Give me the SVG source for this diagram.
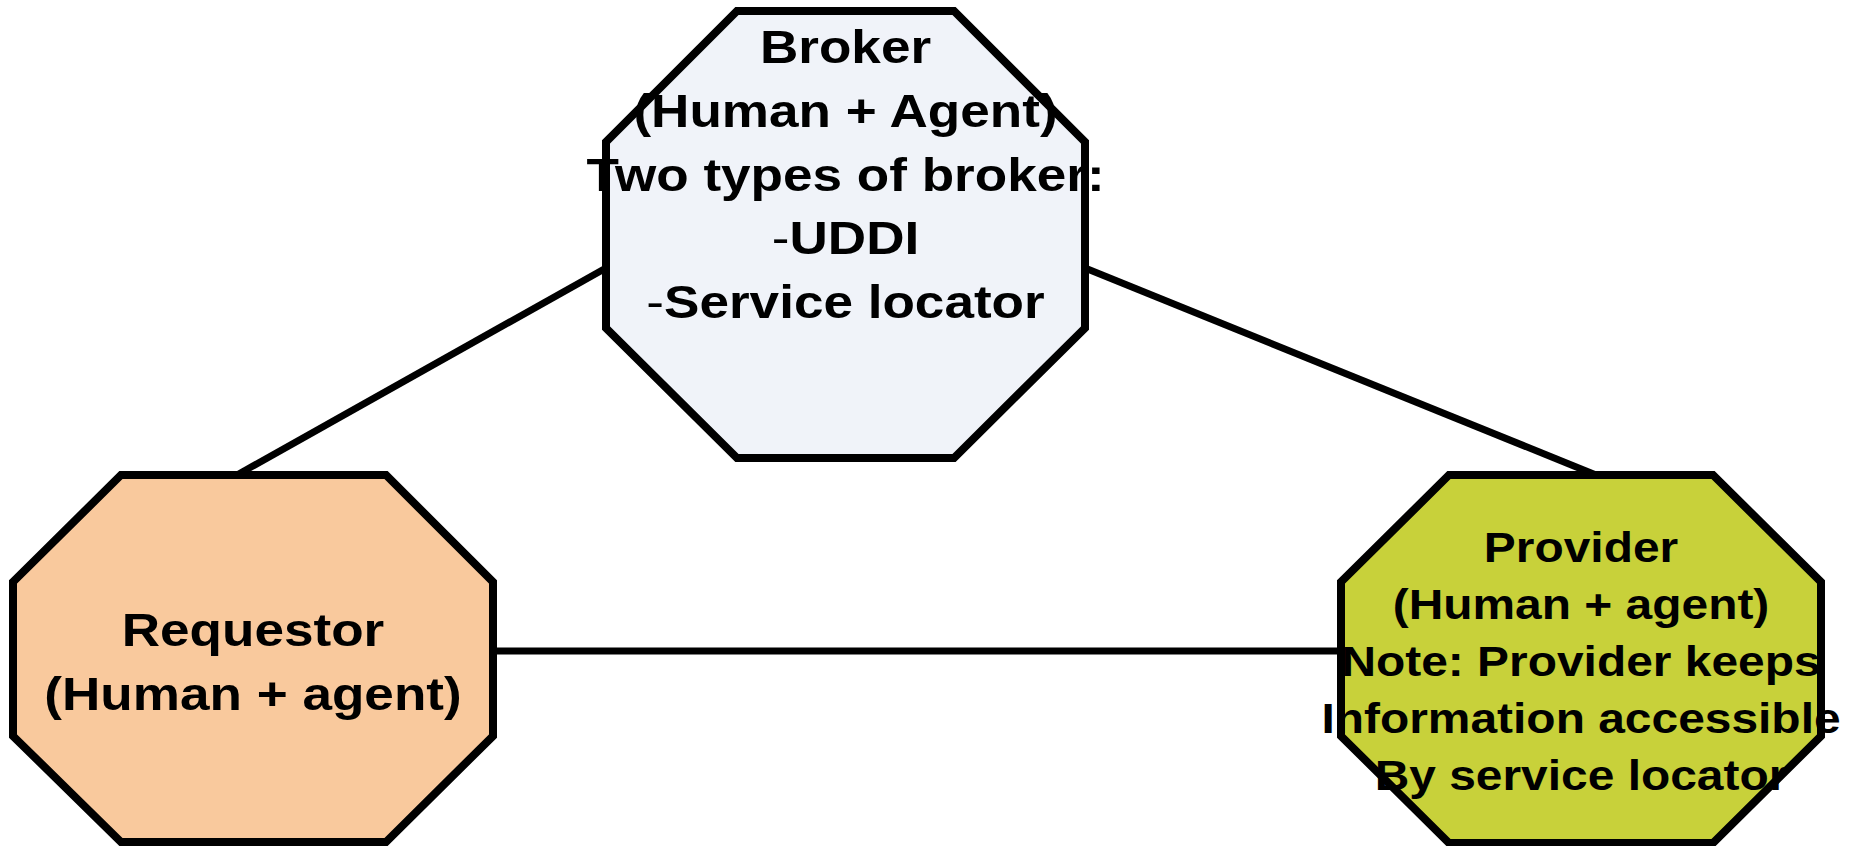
<svg xmlns="http://www.w3.org/2000/svg" width="1856" height="846" viewBox="0 0 1856 846">
<style>
.node{stroke:#000;stroke-width:8;stroke-linejoin:miter}
.conn{stroke:#000;stroke-width:7;fill:none}
.t{font-family:"Liberation Sans",Arial,Helvetica,sans-serif;font-weight:bold;font-size:47px;fill:#000;text-anchor:middle}
.ts{font-size:42.4px}
.n{font-weight:normal}
</style>
<rect width="1856" height="846" fill="#fff"/>
<g id="connectors">
<line class="conn" x1="606" y1="268" x2="237" y2="475"/>
<line class="conn" x1="1085" y1="268" x2="1596" y2="475"/>
<line class="conn" x1="493" y1="651" x2="1341" y2="651"/>
</g>
<g id="broker">
<polygon class="node" fill="#F0F3F9" points="737,11 954,11 1085,142 1085,328 954,458 737,458 606,328 606,142"/>
<g transform="translate(845.5,0) scale(1.13,1)">
<text class="t" x="0" y="63">Broker</text>
<text class="t" x="0" y="127">(Human + Agent)</text>
<text class="t" x="0" y="191">Two types of broker:</text>
<text class="t" x="0" y="254"><tspan class="n">-</tspan>UDDI</text>
<text class="t" x="0" y="318"><tspan class="n">-</tspan>Service locator</text>
</g>
</g>
<g id="requestor">
<polygon class="node" fill="#F9C99D" points="121,475 386,475 493,582 493,736 386,842 121,842 13,736 13,582"/>
<g transform="translate(253,0) scale(1.13,1)">
<text class="t" x="0" y="646">Requestor</text>
<text class="t" x="0" y="710">(Human + agent)</text>
</g>
</g>
<g id="provider">
<polygon class="node" fill="#C8D13A" points="1449,475 1713,475 1821,582 1821,736 1713,843 1449,843 1341,736 1341,582"/>
<g transform="translate(1581,0) scale(1.13,1)">
<text class="t ts" x="0" y="562">Provider</text>
<text class="t ts" x="0" y="619">(Human + agent)</text>
<text class="t ts" x="0" y="676">Note: Provider keeps</text>
<text class="t ts" x="0" y="733">Information accessible</text>
<text class="t ts" x="0" y="790">By service locator</text>
</g>
</g>
</svg>
